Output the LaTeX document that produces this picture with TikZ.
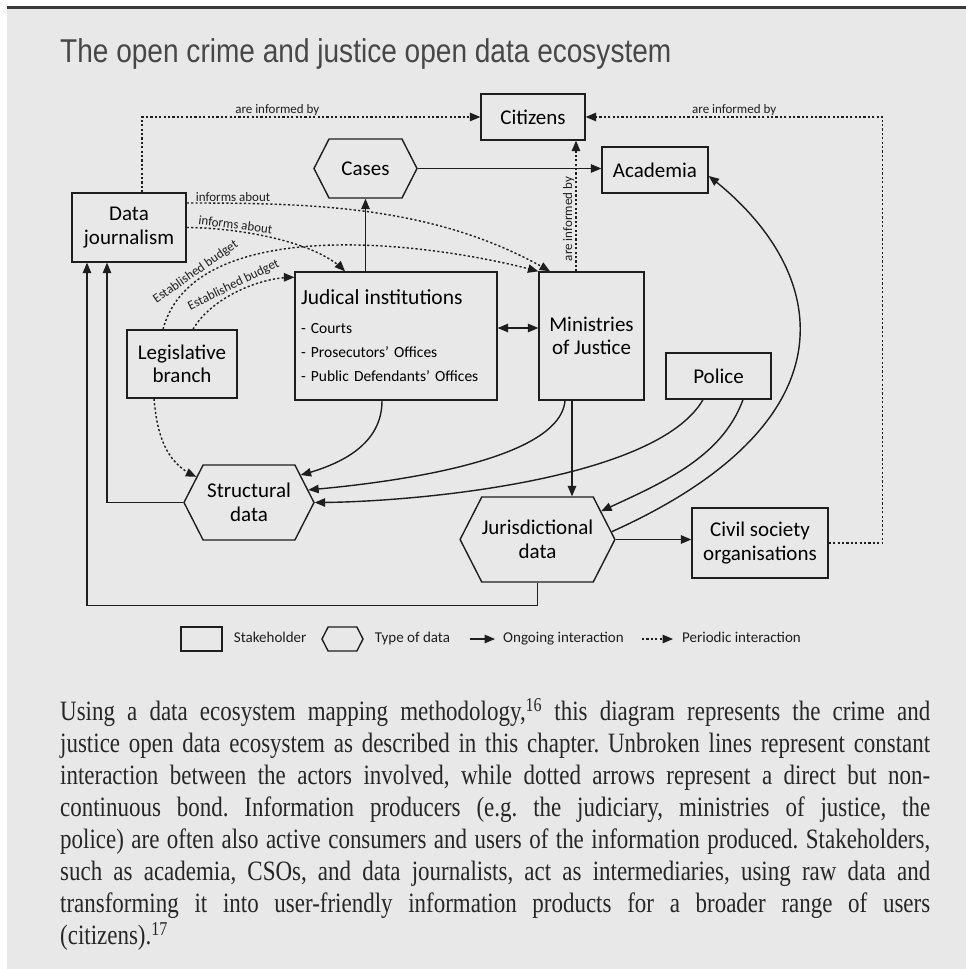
\documentclass[tikz,border=0pt]{standalone}
\usepackage{fontspec}
\usepackage{tikz}
\usetikzlibrary{arrows,shapes.symbols,positioning}
\newfontfamily\diafont{Carlito}
\newfontfamily\titlefont{Liberation Sans}[FakeStretch=0.85]
\newfontfamily\bodyfont{Liberation Serif}[FakeStretch=0.82]
\definecolor{bggray}{HTML}{E8E8E8}
\definecolor{linegray}{HTML}{1E1E1E}
\definecolor{bargray}{HTML}{3A3A3A}
\newcommand{\dianodefont}{\diafont\fontsize{21}{23.5}\selectfont}
\newcommand{\dialblfont}{\diafont\fontsize{13}{15}\selectfont}
\newcommand{\dialegfont}{\diafont\fontsize{15}{17}\selectfont}
\newcommand{\captionfont}{\bodyfont\fontsize{28}{32}\selectfont\frenchspacing\spaceskip=0.25em plus 0.6em minus 0.15em\relax}
\newcommand{\fullline}[1]{\makebox[870pt][s]{#1}}

\tikzset{
  stakeholder/.style={rectangle,draw=linegray,line width=1.4pt,font=\dianodefont,align=center,inner sep=2pt},
  datatype/.style={signal,signal to=east and west,signal pointer angle=126,draw=linegray,line width=1.4pt,font=\dianodefont,align=center,inner sep=0pt},
  ongoing/.style={draw=linegray,line width=1.4pt,->,>=triangle 45},
  periodic/.style={draw=linegray,line width=1.4pt,dash pattern=on 2.2pt off 2.2pt,->,>=triangle 45},
  lbl/.style={font=\dialblfont,inner sep=1pt,text=linegray},
  legtext/.style={font=\dialegfont,inner sep=0pt,text height=10pt,text depth=3pt,text=linegray}
}

\begin{document}
\begin{tikzpicture}[x=1pt,y=1pt]
		\useasboundingbox (0,0) rectangle (966,-969);
		\fill[white] (0,0) rectangle (966,-969);
		\fill[bggray] (7,-8) rectangle (966,-969);
		\draw[bargray,line width=3pt] (7,-7) -- (966,-7);

		\node[anchor=base west,inner sep=0pt,font=\titlefont\fontsize{33}{40}\selectfont,text=black!72] (title) at (60,-62) {The open crime and justice open data ecosystem};

		% stakeholders and data
		\node[stakeholder,minimum width=104pt,minimum height=46pt] (cit) at (533,-117) {Citizens};
		\node[stakeholder,minimum width=106pt,minimum height=46pt] (aca) at (655,-170) {Academia};
		\node[datatype,minimum width=103pt,minimum height=59pt] (cas) at (365.5,-168.5) {Cases};
		\node[stakeholder,minimum width=114pt,minimum height=69pt] (dj) at (129,-227.5) {Data\\journalism};
		\node[stakeholder,minimum width=202pt,minimum height=128pt,text width=190pt,align=left,font=\diafont\fontsize{15.5}{24}\selectfont] (jud) at (396,-336) {{\fontsize{21.5}{24}\selectfont Judical institutions}\\[5pt]- Courts\\- Prosecutors’ Offices\\- Public Defendants’ Offices};
		\node[stakeholder,minimum width=110pt,minimum height=68pt] (leg) at (182,-364) {Legislative\\branch};
		\node[stakeholder,minimum width=105pt,minimum height=128pt] (min) at (591.5,-336) {Ministries\\of Justice};
		\node[stakeholder,minimum width=105pt,minimum height=46pt] (pol) at (718.5,-376) {Police};
		\node[datatype,minimum width=130pt,minimum height=75pt] (str) at (249,-502.5) {Structural\\data};
		\node[datatype,minimum width=149pt,minimum height=85pt] (jur) at (537.5,-539.5) {Jurisdictional\\data};
		\node[stakeholder,minimum width=136pt,minimum height=70pt] (civ) at (760,-543) {Civil society\\organisations};

		% periodic interaction
		\draw[periodic] ([xshift=13pt]dj.north) |- (cit.west) node[lbl,pos=0.7,above] {are informed by};
		\draw[periodic] (civ.east) -- ++(54,0) |- (cit.east) node[lbl,pos=0.75,above] {are informed by};
		\draw[periodic] ([xshift=-15.5pt]min.north) -- ([xshift=43pt]cit.south) node[lbl,pos=0.4,above,sloped] {are informed by};
		\draw[periodic] ([yshift=24.5pt]dj.east) to[out=0,in=150,looseness=0.9] node[lbl,pos=0.12,above] {informs about} ([xshift=-41.5pt]min.north);
		\draw[periodic] (dj.east) to[out=0,in=135,looseness=0.7] node[lbl,pos=0.3,above,sloped] {informs about} ([xshift=-51pt]jud.north);
		\draw[periodic] ([xshift=-19pt]leg.north) to[out=75,in=165,looseness=0.8] node[lbl,pos=0.19,above,sloped] {Established budget} (min.north west);
		\draw[periodic] ([xshift=11pt]leg.north) to[out=60,in=180,looseness=0.8] node[lbl,pos=0.5,above,sloped] {Established budget} ([yshift=-6pt]jud.north west);
		\draw[periodic] ([xshift=-28pt]leg.south) to[out=-85,in=155] (str.154);

		% ongoing interaction
		\draw[ongoing] (cas.south |- jud.north) -- (cas.south);
		\draw[ongoing] (cas.east) -- (cas.east -| aca.west);
		\draw[ongoing,<->] ([yshift=8pt]jud.east) -- ([yshift=8pt]min.west);
		\draw[ongoing] ([xshift=-14pt]jud.south) to[out=-90,in=15] (str.28);
		\draw[ongoing] ([xshift=-26.5pt]min.south) to[out=-95,in=5,looseness=0.6] (str.12);
		\draw[ongoing] ([xshift=-15.5pt]pol.south) to[out=-120,in=0,looseness=0.6] (str.east);
		\draw[ongoing] ([xshift=24.5pt]pol.south) to[out=-110,in=25,looseness=0.9] (jur.24);
		\draw[ongoing] ([xshift=-19.5pt]min.south) -- ([xshift=34.5pt]jur.north);
		\draw[ongoing] (jur.east) -- (jur.east -| civ.west);
		\draw[ongoing] (jur.6) .. controls (860,-420) and (830,-270) .. ([yshift=-6pt]aca.east);
		\draw[ongoing] (str.west) -| ([xshift=-22pt]dj.south);
		\draw[ongoing] (jur.south) -- ++(0,-23) -| ([xshift=-42pt]dj.south);

		% legend
		\node[stakeholder,minimum width=41pt,minimum height=24pt] (legact) at (201.5,-639) {};
		\node[legtext,right=11pt of legact] (legacttxt) {Stakeholder};
		\node[datatype,minimum width=41pt,minimum height=24pt] (legdata) at (342.5,-639) {};
		\node[legtext,right=11pt of legdata] (legdatatxt) {Type of data};
		\coordinate (legon) at (470,-639);
		\coordinate (legonend) at (495,-639);
		\draw[ongoing] (legon) -- (legonend);
		\node[legtext,right=8pt of legonend] (legontxt) {Ongoing interaction};
		\coordinate (legper) at (642,-639);
		\coordinate (legperend) at (673,-639);
		\draw[periodic] (legper) -- (legperend);
		\node[legtext,right=9pt of legperend] (legpertxt) {Periodic interaction};

		% caption text
		\node[anchor=north west,inner sep=0pt,align=left,font=\captionfont,text=black!85] (caption) at (60,-698) {%
\fullline{Using a data ecosystem mapping methodology,\textsuperscript{16} this diagram represents the crime and}\\
\fullline{justice open data ecosystem as described in this chapter. Unbroken lines represent constant}\\
\fullline{interaction between the actors involved, while dotted arrows represent a direct but non-}\\
\fullline{continuous bond. Information producers (e.g. the judiciary, ministries of justice, the}\\
\fullline{police) are often also active consumers and users of the information produced. Stakeholders,}\\
\fullline{such as academia, CSOs, and data journalists, act as intermediaries, using raw data and}\\
\fullline{transforming it into user-friendly information products for a broader range of users}\\
(citizens).\textsuperscript{17}};
\end{tikzpicture}
\end{document}
